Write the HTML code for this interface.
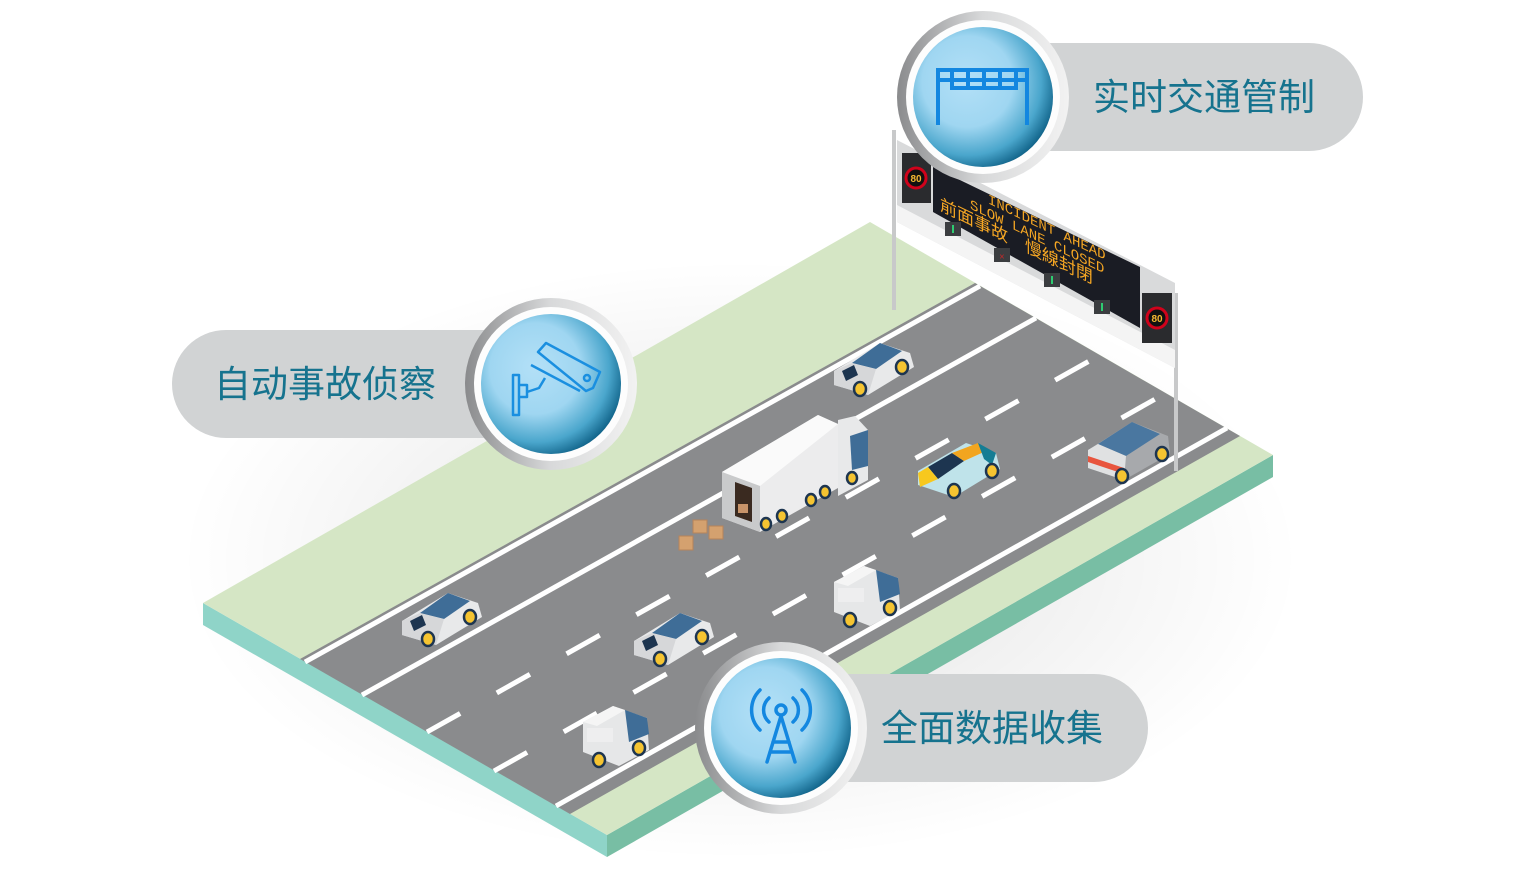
<!DOCTYPE html>
<html><head><meta charset="utf-8"><style>
html,body{margin:0;padding:0;background:#fff;width:1536px;height:869px;overflow:hidden}
svg{display:block}
</style></head><body>
<svg width="1536" height="869" viewBox="0 0 1536 869" xmlns="http://www.w3.org/2000/svg">
<defs>
<radialGradient id="blue" cx="0.4" cy="0.4" r="0.65" fx="0.38" fy="0.38">
<stop offset="0" stop-color="#b3e0f7"/><stop offset="0.5" stop-color="#9fd6f1"/><stop offset="0.8" stop-color="#4aa6cc"/><stop offset="1" stop-color="#0d5f85"/>
</radialGradient>
<linearGradient id="ring" x1="0" y1="0" x2="1" y2="0">
<stop offset="0" stop-color="#8a8b8d"/><stop offset="0.5" stop-color="#d8d9da"/><stop offset="1" stop-color="#f2f2f2"/>
</linearGradient>
<radialGradient id="shadow" cx="0.5" cy="0.5" r="0.5"><stop offset="0" stop-color="#000" stop-opacity="0.12"/><stop offset="1" stop-color="#000" stop-opacity="0"/></radialGradient>
<g id="car">
<polygon points="-38,6 8,-22 38,-12 42,2 -4,30 -38,20" fill="#e8e9ea"/>
<polygon points="-20,-2 8,-22 30,-14 4,4" fill="#3f6d97"/>
<polygon points="-38,6 -20,-2 4,4 -4,30 -38,20" fill="#d6d7d9"/>
<polygon points="-30,6 -18,0 -14,10 -26,16" fill="#1d3550"/>
<ellipse cx="-12" cy="24" rx="6" ry="7" fill="#f5c431" stroke="#1d3550" stroke-width="2.5"/>
<ellipse cx="30" cy="2" rx="6" ry="7" fill="#f5c431" stroke="#1d3550" stroke-width="2.5"/>
</g>
<g id="van">
<polygon points="-34,-8 -4,-24 30,-12 32,20 2,36 -34,22" fill="#e6e7e8"/>
<polygon points="-34,-8 -4,-24 8,-20 -20,-4" fill="#f5f5f5"/>
<polygon points="8,-20 30,-12 32,4 12,12" fill="#3f6d97"/>
<rect x="-30" y="-2" width="26" height="14" fill="#eeeeef"/>
<ellipse cx="-18" cy="30" rx="6" ry="7" fill="#f5c431" stroke="#1d3550" stroke-width="2.5"/>
<ellipse cx="22" cy="18" rx="6" ry="7" fill="#f5c431" stroke="#1d3550" stroke-width="2.5"/>
</g>
</defs>
<ellipse cx="740" cy="560" rx="560" ry="300" fill="url(#shadow)"/>
<polygon points="203,603 607,835 607,857 203,625" fill="#8fd4c8"/>
<polygon points="607,835 1273,455 1273,477 607,857" fill="#78bea4"/>
<polygon points="203,603 870,222 1273,455 607,835" fill="#d5e6c5"/>
<polygon points="300,659 975,283 1240,436 570,814" fill="#8a8b8d"/>
<g stroke="#fff" stroke-width="5" fill="none">
<line x1="305" y1="662" x2="980" y2="286"/>
<line x1="362" y1="695" x2="1036" y2="318"/>
<line x1="427" y1="732" x2="1100" y2="355" stroke-dasharray="38 42"/>
<line x1="494" y1="771" x2="1166" y2="393" stroke-dasharray="38 42"/>
<line x1="556" y1="806" x2="1227" y2="428"/>
</g>
<use href="#car" x="872" y="365"/>
<use href="#car" x="440" y="615"/>
<use href="#car" x="672" y="635" />
<g transform="translate(958,465)">
<polygon points="-40,6 8,-22 38,-12 42,4 -4,32 -40,20" fill="#bfe3ea"/>
<polygon points="-30,2 -6,-12 6,-4 -20,14" fill="#1d3550"/>
<polygon points="-6,-12 20,-22 28,-14 6,-4" fill="#f2a51f"/>
<polygon points="20,-22 38,-12 34,0 26,-6" fill="#157d94"/>
<polygon points="-40,8 -30,2 -20,14 -38,22" fill="#f7c81e"/>
<ellipse cx="-4" cy="26" rx="6" ry="7" fill="#f5c431" stroke="#1d3550" stroke-width="2.5"/>
<ellipse cx="34" cy="6" rx="6" ry="7" fill="#f5c431" stroke="#1d3550" stroke-width="2.5"/>
</g>
<g transform="translate(1128,450)">
<polygon points="-40,0 4,-28 40,-14 42,4 -4,30 -40,18" fill="#a7a9ac"/>
<polygon points="-30,-6 4,-28 32,-16 -2,6" fill="#4a77a0"/>
<polygon points="-40,0 -30,-6 -2,6 -4,30 -40,18" fill="#e0e1e2"/>
<polygon points="-40,6 -4,18 -4,24 -40,12" fill="#e8553e"/>
<ellipse cx="-6" cy="26" rx="6" ry="7" fill="#f5c431" stroke="#1d3550" stroke-width="2.5"/>
<ellipse cx="34" cy="4" rx="6" ry="7" fill="#f5c431" stroke="#1d3550" stroke-width="2.5"/>
</g>
<use href="#van" x="868" y="590"/>
<use href="#van" x="617" y="730"/>
<polygon points="722,472 818,415 838,424 838,488 760,532 722,518" fill="#ececed"/>
<polygon points="722,472 818,415 838,424 760,486" fill="#fafafa"/>
<polygon points="722,472 760,486 760,532 722,518" fill="#c9cacb"/>
<polygon points="735,482 752,488 752,522 735,516" fill="#3a2a20"/>
<rect x="738" y="504" width="10" height="9" fill="#c8946a"/>
<polygon points="838,420 855,416 868,430 868,480 838,496" fill="#e8e9ea"/>
<polygon points="850,436 868,430 868,466 852,470" fill="#3f6d97"/>
<g fill="#f5c431" stroke="#1d3550" stroke-width="2.5">
<ellipse cx="766" cy="524" rx="5" ry="6"/><ellipse cx="782" cy="516" rx="5" ry="6"/>
<ellipse cx="811" cy="500" rx="5" ry="6"/><ellipse cx="825" cy="492" rx="5" ry="6"/>
<ellipse cx="852" cy="478" rx="5" ry="6"/></g>
<g fill="#d4a16f" stroke="#b5835a" stroke-width="1">
<rect x="693" y="520" width="14" height="13"/><rect x="709" y="526" width="14" height="13"/><rect x="679" y="536" width="14" height="14"/></g>
<rect x="892" y="130" width="4" height="180" fill="#c8c9ca"/>
<rect x="1174" y="293" width="4" height="178" fill="#c8c9ca"/>
<polygon points="897,140 1175,283 1175,368 897,222" fill="#d9dadb"/>
<polygon points="897,205 1175,350 1175,368 897,222" fill="#f4f4f4"/>
<polygon points="933,167 1140,267 1140,328 933,212" fill="#1a1c24"/>
<rect x="902" y="153" width="29" height="50" fill="#2a2b2e"/>
<circle cx="916" cy="178" r="10" fill="#111" stroke="#d0021b" stroke-width="3"/>
<text x="916" y="182" font-family="Liberation Sans,sans-serif" font-size="10" fill="#f5b731" text-anchor="middle" font-weight="bold">80</text>
<rect x="1142" y="293" width="30" height="50" fill="#2a2b2e"/>
<circle cx="1157" cy="318" r="10" fill="#111" stroke="#d0021b" stroke-width="3"/>
<text x="1157" y="322" font-family="Liberation Sans,sans-serif" font-size="10" fill="#f5b731" text-anchor="middle" font-weight="bold">80</text>
<g transform="matrix(1,0.483,0,1,0,0)" font-family="Liberation Mono,'Noto Sans CJK TC',monospace" fill="#f5a623">
<text x="988" y="-274" font-size="14">INCIDENT AHEAD</text>
<text x="970" y="-260" font-size="14">SLOW LANE CLOSED</text>
<text x="940" y="-244" font-size="17">前面事故　慢線封閉</text>
</g>
<g fill="#3b3d40"><rect x="945" y="222" width="16" height="14"/><rect x="994" y="248" width="16" height="14"/><rect x="1044" y="273" width="16" height="14"/><rect x="1094" y="300" width="16" height="14"/></g>
<g fill="#2ecc71"><rect x="952" y="225" width="2" height="8"/><rect x="1051" y="276" width="2" height="8"/><rect x="1101" y="303" width="2" height="8"/></g>
<text x="1002" y="260" font-size="10" fill="#e22" text-anchor="middle">×</text>
<rect x="172" y="330" width="390" height="108" rx="54" fill="#d1d3d4"/>
<rect x="985" y="43" width="378" height="108" rx="54" fill="#d1d3d4"/>
<rect x="770" y="674" width="378" height="108" rx="54" fill="#d1d3d4"/>
<g font-family="Liberation Sans,'Noto Sans CJK SC',sans-serif" font-size="37" fill="#16738e">
<text x="214" y="397">自动事故侦察</text>
<text x="1093" y="110">实时交通管制</text>
<text x="881" y="741">全面数据收集</text>
</g>
<g>
<circle cx="551" cy="384" r="86" fill="url(#ring)"/><circle cx="551" cy="384" r="77" fill="#fdfdfd"/><circle cx="551" cy="384" r="70" fill="url(#blue)"/>
<circle cx="983" cy="97" r="86" fill="url(#ring)"/><circle cx="983" cy="97" r="77" fill="#fdfdfd"/><circle cx="983" cy="97" r="70" fill="url(#blue)"/>
<circle cx="781" cy="728" r="86" fill="url(#ring)"/><circle cx="781" cy="728" r="77" fill="#fdfdfd"/><circle cx="781" cy="728" r="70" fill="url(#blue)"/>
</g>
<g fill="none" stroke="#1a8fe0" stroke-width="2.5" stroke-linejoin="round">
<polygon points="538,352 546,343 600,372 593,388 586,391"/>
<line x1="531" y1="365" x2="580" y2="391"/>
<circle cx="587" cy="378" r="3"/>
<path d="M513,375 h6 v40 h-6 z M519,385 h8 v12 h-8 M527,392 l12,-4 l6,-10"/>
</g>
<g fill="none" stroke="#1387e0" stroke-width="4">
<path d="M938,125 V70 H1027 V125"/>
<path d="M938,80 H1027 M952,72 v16 h16 v-16 M968,72 v16 h16 v-16 M984,72 v16 h16 v-16 M1000,72 v16 h16 v-16"/>
</g>
<g fill="none" stroke="#1387e0" stroke-width="3.5" stroke-linecap="round">
<circle cx="781" cy="710" r="5"/>
<path d="M769,698 a16,16 0 0 0 0,24 M793,698 a16,16 0 0 1 0,24 M760,690 a28,28 0 0 0 0,40 M802,690 a28,28 0 0 1 0,40"/>
<path d="M781,716 L767,762 M781,716 L795,762 M773,742 h16 M770,752 h22"/>
</g>
</svg>
</body></html>
